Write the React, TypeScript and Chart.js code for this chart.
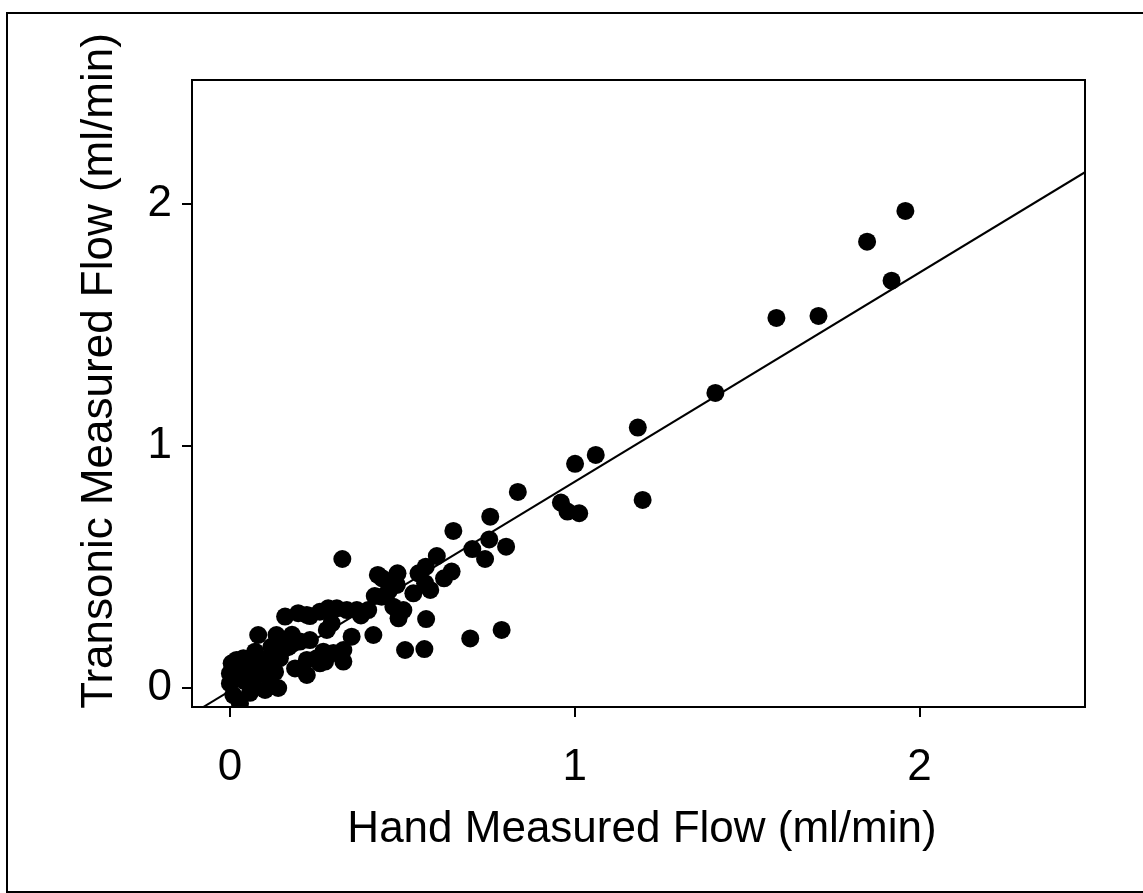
import React, { useEffect, useRef } from "react";
import { Chart, registerables } from "chart.js";

Chart.register(...registerables);

// Scatter data: hand measured (x) vs transonic measured (y), ml/min
const handFlow: number[] = [
  1.408, 1.585, 1.707, 1.848, 1.919, 1.959, 1.183, 1.061, 1.001, 0.835,
  1.197, 0.960, 0.979, 1.013, 0.755, 0.752, 0.801, 0.740, 0.648, 0.703,
  0.643, 0.621, 0.600, 0.568, 0.547, 0.581, 0.532, 0.486, 0.484, 0.566,
  0.429, 0.442, 0.440, 0.474, 0.489, 0.569, 0.503, 0.788, 0.697, 0.508,
  0.564, 0.416, 0.401, 0.368, 0.339, 0.310, 0.285, 0.326, 0.261, 0.223,
  0.353, 0.295, 0.281, 0.329, 0.300, 0.271, 0.232, 0.223, 0.261, 0.329,
  0.160, 0.198, 0.232, 0.082, 0.135, 0.155, 0.203, 0.073, 0.116, 0.145,
  0.189, 0.223, 0.252, 0.276, 0.097, 0.131, 0.140, 0.102, 0.058, 0.058,
  0.005, 0.000, 0.000, 0.010, 0.029, 0.039, 0.039, 0.073, 0.019,
  0.020, 0.040, 0.070, 0.090, 0.120, 0.170, 0.010, 0.050, 0.110, 0.180,
  0.420, 0.380, 0.460,
];
const transonicFlow: number[] = [
  1.219, 1.529, 1.537, 1.844, 1.683, 1.971, 1.076, 0.963, 0.926, 0.810,
  0.777, 0.766, 0.729, 0.722, 0.708, 0.614, 0.584, 0.533, 0.649, 0.574,
  0.481, 0.453, 0.545, 0.501, 0.474, 0.405, 0.391, 0.474, 0.426, 0.433,
  0.467, 0.453, 0.377, 0.336, 0.288, 0.285, 0.322, 0.240, 0.205, 0.157,
  0.161, 0.219, 0.322, 0.322, 0.322, 0.329, 0.329, 0.533, 0.315, 0.302,
  0.212, 0.267, 0.240, 0.157, 0.145, 0.150, 0.198, 0.116, 0.102, 0.109,
  0.295, 0.309, 0.297, 0.219, 0.219, 0.185, 0.192, 0.150, 0.116, 0.123,
  0.081, 0.054, 0.123, 0.109, 0.088, 0.067, 0.000, -0.008, 0.033, -0.020,
  0.102, 0.060, 0.019, -0.029, -0.063, 0.074, 0.123, 0.047, 0.116,
  0.085, 0.030, 0.000, 0.120, 0.170, 0.170, 0.050, 0.090, 0.050, 0.220,
  0.380, 0.300, 0.400,
];

// Regression line end points
const fitX: number[] = [-0.11, 2.48];
const fitY: number[] = [-0.107, 2.131];

const xTicks: number[] = [0, 1, 2];
const yTicks: number[] = [0, 1, 2];

const xTitle = "Hand Measured Flow (ml/min)";
const yTitle = "Transonic Measured Flow (ml/min)";

const FONT = "'Liberation Sans', Arial, Helvetica, sans-serif";

export default function App() {
  const ref = useRef<HTMLCanvasElement | null>(null);

  useEffect(() => {
    if (!ref.current) return;
    const boxPlugin = {
      id: "boxAndTitles",
      beforeDatasetsDraw(chart: any) {
        const { ctx, chartArea } = chart;
        ctx.save();
        ctx.strokeStyle = "#000";
        ctx.lineWidth = 2;
        ctx.strokeRect(chartArea.left, chartArea.top, chartArea.right - chartArea.left, chartArea.bottom - chartArea.top);
        ctx.restore();
      },
      afterDraw(chart: any) {
        const { ctx } = chart;
        ctx.save();
        ctx.fillStyle = "#000";
        ctx.font = `44px ${FONT}`;
        ctx.textAlign = "center";
        ctx.textBaseline = "middle";
        ctx.fillText(xTitle, 642, 830);
        ctx.translate(100, 371);
        ctx.rotate(-Math.PI / 2);
        ctx.fillText(yTitle, 0, 0);
        ctx.restore();
      },
    };

    const chart = new Chart(ref.current, {
      type: "scatter",
      data: {
        datasets: [
          {
            type: "scatter",
            data: handFlow.map((x, i) => ({ x, y: transonicFlow[i] })),
            backgroundColor: "#000",
            borderColor: "#000",
            pointRadius: 9,
            pointBorderWidth: 0,
          },
          {
            type: "line",
            data: fitX.map((x, i) => ({ x, y: fitY[i] })),
            borderColor: "#000",
            borderWidth: 2,
            pointRadius: 0,
            fill: false,
          },
        ],
      },
      options: {
        responsive: false,
        animation: false,
        layout: { padding: { left: 0, top: 80, right: 58, bottom: 0 } },
        plugins: { legend: { display: false }, tooltip: { enabled: false } },
        scales: {
          x: {
            type: "linear",
            min: -0.11,
            max: 2.48,
            afterBuildTicks: (s: any) => { s.ticks = xTicks.map((v) => ({ value: v })); },
            afterFit: (s: any) => { s.height = 186; },
            border: { display: false },
            grid: { drawOnChartArea: false, drawTicks: true, tickLength: 10, color: "#000", lineWidth: 2 },
            ticks: { color: "#000", padding: 24, font: { size: 44, family: FONT }, maxRotation: 0 },
          },
          y: {
            type: "linear",
            min: -0.0785,
            max: 2.512,
            afterBuildTicks: (s: any) => { s.ticks = yTicks.map((v) => ({ value: v })); },
            afterFit: (s: any) => { s.width = 192; },
            border: { display: false },
            grid: { drawOnChartArea: false, drawTicks: true, tickLength: 10, color: "#000", lineWidth: 2 },
            ticks: { color: "#000", padding: 10, font: { size: 44, family: FONT } },
          },
        },
      },
      plugins: [boxPlugin],
    } as any);
    return () => chart.destroy();
  }, []);

  return (
    <div style={{ position: "fixed", left: 0, top: 0, width: 1143, height: 893, background: "#fff" }}>
      <div
        style={{
          position: "absolute",
          left: 6,
          top: 12,
          width: 1150,
          height: 877,
          borderLeft: "2px solid #000",
          borderTop: "2px solid #000",
          borderBottom: "2px solid #000",
        }}
      />
      <canvas ref={ref} width={1143} height={893} style={{ position: "absolute", left: 0, top: 0 }} />
    </div>
  );
}
